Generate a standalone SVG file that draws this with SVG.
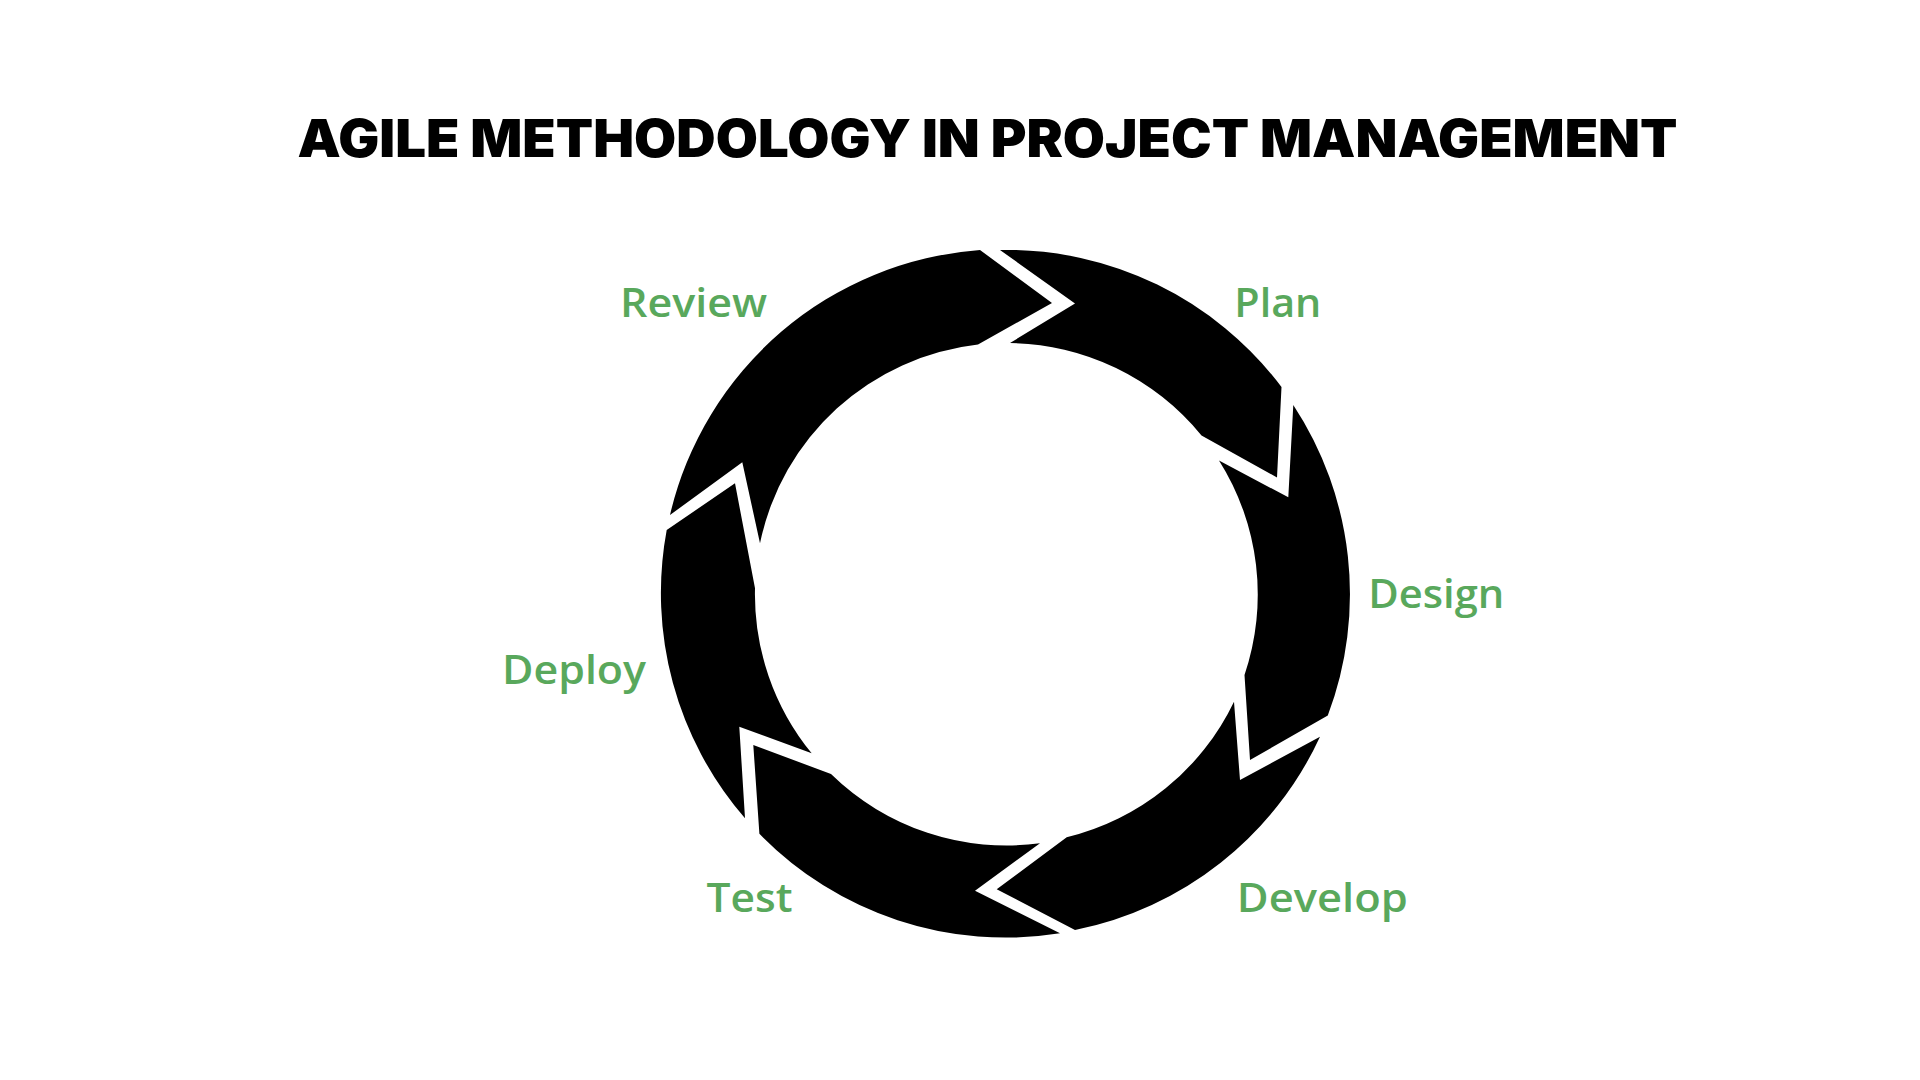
<svg xmlns="http://www.w3.org/2000/svg" width="1920" height="1080" viewBox="0 0 1920 1080">
  <style>
    .seg { fill: #000000; }
    .label { fill: #59a85c; font-family: "Open Sans", "Liberation Sans", sans-serif; font-weight: 600; font-size: 39px; }
    .title { fill: #000000; font-family: Inter, "Liberation Sans", sans-serif; font-weight: 900; font-size: 52px; }
  </style>
  <rect width="1920" height="1080" fill="#ffffff"/>
  <text class="title" x="297.5" y="156.7" textLength="1380" lengthAdjust="spacingAndGlyphs">AGILE METHODOLOGY IN PROJECT MANAGEMENT</text>

  <g id="plan">
    <path class="seg" d="M1000,250 A344,344 0 0 1 1281.5,387 L1277,477.5 L1201.5,435.5 A251,251 0 0 0 1010,343 L1075,303.5 Z"/>
    <text class="label" x="1234.3" y="317" textLength="87" lengthAdjust="spacingAndGlyphs">Plan</text>
  </g>
  <g id="design">
    <path class="seg" d="M1293.3,405 A344,344 0 0 1 1327.8,715.6 L1250,760 L1244.5,675 A251,251 0 0 0 1219,460.5 L1288.3,497.3 Z"/>
    <text class="label" x="1368.3" y="608" textLength="136" lengthAdjust="spacingAndGlyphs">Design</text>
  </g>
  <g id="develop">
    <path class="seg" d="M1320,736.7 A344,344 0 0 1 1075,930 L996.7,889.3 L1066.7,837.3 A251,251 0 0 0 1234,701.7 L1240,780 Z"/>
    <text class="label" x="1236.8" y="912" textLength="171" lengthAdjust="spacingAndGlyphs">Develop</text>
  </g>
  <g id="test">
    <path class="seg" d="M1060,933.3 A344,344 0 0 1 759.4,833.8 L753.3,745 L831,774 A251,251 0 0 0 1040,843.3 L975,890.7 Z"/>
    <text class="label" x="706.5" y="912" textLength="86" lengthAdjust="spacingAndGlyphs">Test</text>
  </g>
  <g id="deploy">
    <path class="seg" d="M745,818.3 A344,344 0 0 1 666.7,530 L735,483.3 L755,588.3 A251,251 0 0 0 811.7,753.3 L739.3,726.7 Z"/>
    <text class="label" x="502" y="684" textLength="144" lengthAdjust="spacingAndGlyphs">Deploy</text>
  </g>
  <g id="review">
    <path class="seg" d="M670,515 A344,344 0 0 1 980,250 L1052,303 L978,344.6 A251,251 0 0 0 760,543.3 L742.3,462.3 Z"/>
    <text class="label" x="620" y="317" textLength="147" lengthAdjust="spacingAndGlyphs">Review</text>
  </g>
</svg>
